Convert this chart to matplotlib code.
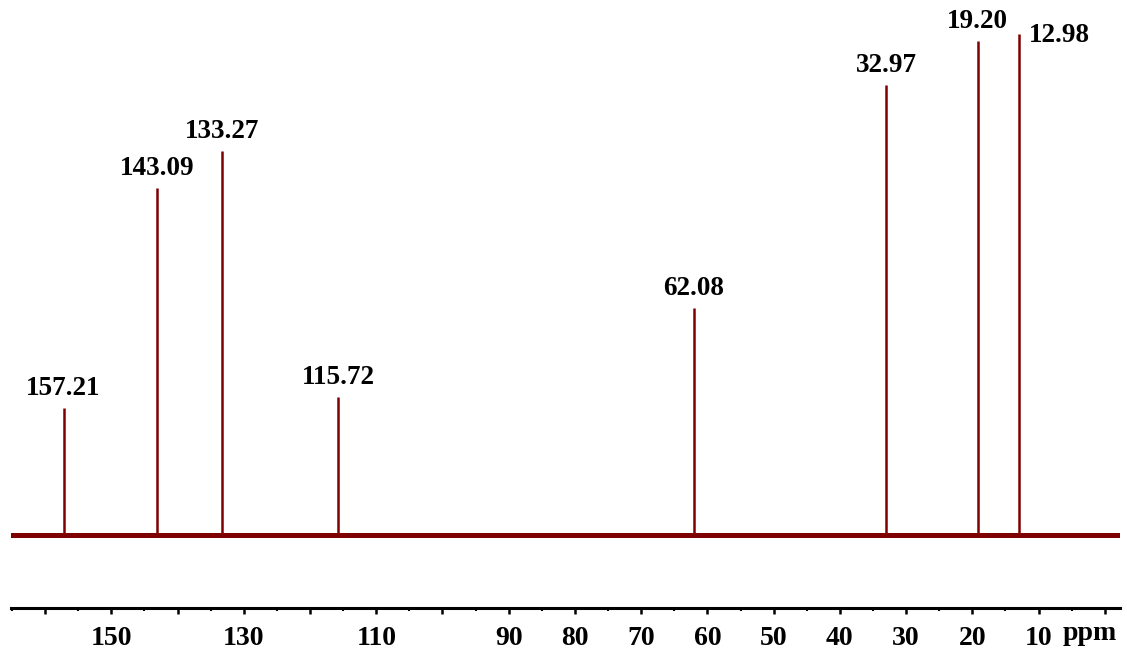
import matplotlib.pyplot as plt

# 13C NMR peaks (ppm) and their heights (arbitrary units)
peak_ppm = [157.21, 143.09, 133.27, 115.72, 62.08, 32.97, 19.20, 12.98]
peak_height = [127, 347, 384, 138, 227, 450, 494, 501]
peak_labels = ["157.21", "143.09", "133.27", "115.72", "62.08", "32.97",
               "19.20", "12.98"]

# recorded spectral window (ppm)
spec_start = 165.3
spec_end = -2.5

major_ticks = list(range(160, -1, -10))
tick_text = {150: "150", 130: "130", 110: "110", 90: "90", 80: "80",
             70: "70", 60: "60", 50: "50", 40: "40", 30: "30", 20: "20",
             10: "10"}
minor_ticks = list(range(165, 0, -10))

colour = "#7f0000"
font = {"family": "Liberation Serif", "weight": "bold"}

fig = plt.figure(figsize=(11.27, 6.6), dpi=100)
ax = fig.add_axes([11 / 1127, 52 / 660, 1109 / 1127, 608 / 660])

# baseline then the peaks on top of it
ax.plot([spec_start, spec_end], [0, 0], color=colour, lw=3.6,
        solid_capstyle="butt")
ax.vlines(peak_ppm, 0, peak_height, color=colour, lw=1.8)

for ppm, h, lab in zip(peak_ppm, peak_height, peak_labels):
    if lab == "12.98":
        ax.annotate(lab, (ppm, h), xytext=(7, -1), textcoords="offset points",
                    ha="left", va="center", fontsize=19.5, **font)
    else:
        ax.annotate(lab, (ppm, h), xytext=(0, 5), textcoords="offset points",
                    ha="center", va="bottom", fontsize=19.5, **font)

ax.set_xlim(165.15, -2.3)
ax.set_ylim(-73, 535)

ax.set_xticks(major_ticks)
ax.set_xticklabels([tick_text.get(t, "") for t in major_ticks], **font,
                   fontsize=20)
ax.set_xticks(minor_ticks, minor=True)
ax.tick_params(axis="x", which="major", length=4, width=1.8, pad=9)
ax.tick_params(axis="x", which="minor", length=2.5, width=1.5)
ax.set_yticks([])
for side in ["left", "right", "top"]:
    ax.spines[side].set_visible(False)
ax.spines["bottom"].set_linewidth(2.2)

ax.annotate("ppm", (1.0, 0), xycoords="axes fraction", xytext=(-2, -9),
            textcoords="offset points", ha="right", va="top", fontsize=20,
            **font)

fig.savefig("out.png", dpi=100)
